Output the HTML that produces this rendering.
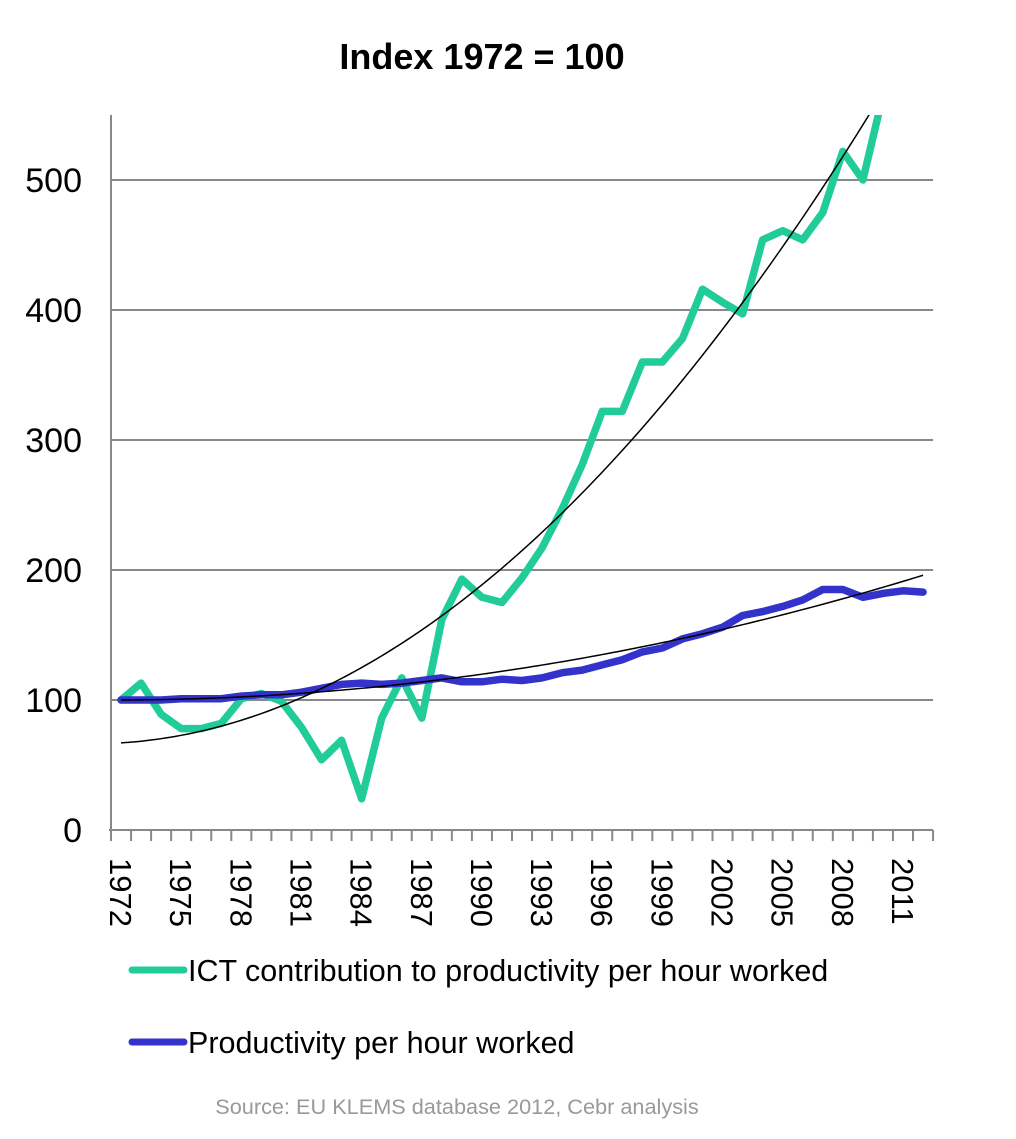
<!DOCTYPE html>
<html><head><meta charset="utf-8"><style>
body{margin:0;background:#fff;width:1016px;height:1134px;overflow:hidden}
svg{font-family:"Liberation Sans",sans-serif}
</style></head><body>
<svg id="chart" width="1016" height="1134">
<text x="482" y="69" text-anchor="middle" font-size="36" font-weight="bold">Index 1972 = 100</text>
<g id="grid"></g><g id="axes"></g><g id="series"></g>
<g>
<g><line x1="132" y1="970" x2="184" y2="970" stroke="#22cc99" stroke-width="7" stroke-linecap="round"/><text x="188" y="981" font-size="30.5">ICT contribution to productivity per hour worked</text></g>
<g><line x1="132" y1="1042" x2="184" y2="1042" stroke="#3333cc" stroke-width="7" stroke-linecap="round"/><text x="188" y="1053" font-size="30.5">Productivity per hour worked</text></g>
</g>
<text x="457" y="1114" text-anchor="middle" font-size="21.7" fill="#999">Source: EU KLEMS database 2012, Cebr analysis</text>
</svg>
<script>
const years=[1972,1973,1974,1975,1976,1977,1978,1979,1980,1981,1982,1983,1984,1985,1986,1987,1988,1989,1990,1991,1992,1993,1994,1995,1996,1997,1998,1999,2000,2001,2002,2003,2004,2005,2006,2007,2008,2009,2010,2011,2012];
const ictValues=[100,113,89,78,78,82,101,105,99,79,54,69,24,86,117,86,162,193,179,175,194,217,247,281,322,322,360,360,378,416,406,397,454,461,454,475,522,500,565,610,640];
const productivityValues=[100,100,100,101,101,101,103,104,104,106,109,112,113,112,113,115,117,114,114,116,115,117,121,123,127,131,137,140,147,151,156,165,168,172,177,185,185,179,182,184,183];
const yTicks=[0,100,200,300,400,500];
const yearLabels=[1972,1975,1978,1981,1984,1987,1990,1993,1996,1999,2002,2005,2008,2011];
const ictTrend={a:67,b:0.98,c:0.3208};
const prodTrend={a:100,b:0.043,c:0.0589};
const NS='http://www.w3.org/2000/svg';
const x0=111,band=20.05,yBase=830,yScale=1.3,yMax=550;
const xs=i=>x0+band*(i+0.5);
const ys=v=>yBase-v*yScale;
function mk(tag,attrs,parent){const e=document.createElementNS(NS,tag);for(const k in attrs)e.setAttribute(k,attrs[k]);parent.appendChild(e);return e;}
const grid=document.getElementById('grid'),axes=document.getElementById('axes'),ser=document.getElementById('series');
const right=x0+band*years.length;
yTicks.forEach(v=>{
 if(v>0){const g=mk('line',{x1:x0,x2:right,y1:ys(v),y2:ys(v),stroke:'#888','stroke-width':2},grid);
 
 }
 const t=mk('text',{x:82,y:ys(v)+12,'text-anchor':'end','font-size':34},axes);t.textContent=v;
 
 
});
const ya=mk('line',{x1:x0,x2:x0,y1:ys(yMax),y2:yBase+11,stroke:'#888','stroke-width':2},axes);


const xa=mk('line',{x1:x0-2,x2:right,y1:yBase,y2:yBase,stroke:'#888','stroke-width':2},axes);


for(let i=0;i<=years.length;i++){mk('line',{x1:x0+band*i,x2:x0+band*i,y1:yBase,y2:yBase+11,stroke:'#888','stroke-width':2},axes);}
yearLabels.forEach(y=>{const i=years.indexOf(y);const cx=xs(i);
 const t=mk('text',{x:0,y:0,'font-size':31,transform:`translate(${cx-11},858) rotate(90)`},axes);t.textContent=y;
 
 });
const defs=mk('defs',{},ser);const cp=mk('clipPath',{id:'clip'},defs);mk('rect',{x:0,y:ys(yMax),width:1016,height:800},cp);
function poly(vals,color,w,name){const p=mk('polyline',{points:vals.map((v,i)=>xs(i)+','+ys(v)).join(' '),fill:'none',stroke:color,'stroke-width':w,'stroke-linejoin':'round','stroke-linecap':'round','clip-path':'url(#clip)'},ser);
 
 }
poly(ictValues,'#22cc99',7.5,'ict-line');
poly(productivityValues,'#3333cc',7.5,'productivity-line');
function smooth(f,name){let pts=[];for(let t=0;t<=years.length-1;t+=0.25)pts.push(xs(t)+','+ys(f(t)));
 const p=mk('polyline',{points:pts.join(' '),fill:'none',stroke:'#000','stroke-width':1.5,'clip-path':'url(#clip)'},ser);
 
 }
smooth(t=>ictTrend.a+ictTrend.b*t+ictTrend.c*t*t,'ict-trendline');
smooth(t=>prodTrend.a+prodTrend.b*t+prodTrend.c*t*t,'productivity-trendline');
</script>
</body></html>
